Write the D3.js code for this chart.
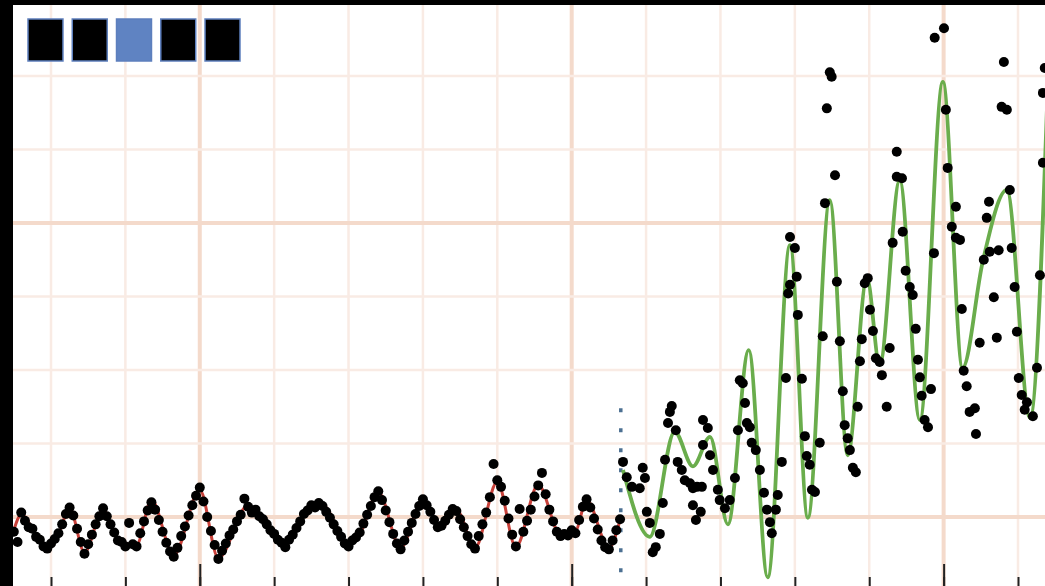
<!DOCTYPE html>
<html>
<head>
<meta charset="utf-8">
<script src="https://cdn.jsdelivr.net/npm/d3@7"></script>
<style>
  html, body { margin: 0; padding: 0; background: #000; }
  svg { display: block; }
</style>
</head>
<body>
<svg id="chart" width="1045" height="586"></svg>
<script>
// observed history, one value per day starting at day 0
const histValues = [
  18.0,16.6,20.6,19.5,18.6,18.4,17.3,16.9,16.0,15.7,
  16.4,17.0,17.8,19.0,20.4,21.3,20.2,18.4,16.6,15.0,
  16.3,17.6,19.0,20.1,21.2,20.1,19.0,17.9,16.8,16.6,
  16.0,19.2,16.3,16.0,17.8,19.4,20.9,22.0,21.0,19.6,
  18.0,16.5,15.3,14.6,15.8,17.4,18.7,20.2,21.6,22.9,
  24.0,22.1,20.0,18.1,16.2,14.3,15.4,16.4,17.5,18.3,
  19.4,20.3,22.5,21.4,20.6,21.0,20.1,19.7,19.0,18.2,
  17.7,16.9,16.5,15.9,16.9,17.6,18.5,19.4,20.4,20.9,
  21.6,21.3,21.9,21.5,20.7,19.9,19.0,18.1,17.3,16.4,
  16.0,16.8,17.2,17.9,19.1,20.3,21.5,22.7,23.5,22.3,
  20.9,19.3,17.7,16.4,15.6,16.8,18.0,19.2,20.4,21.5,
  22.4,21.6,20.7,19.6,18.6,18.8,19.5,20.3,21.1,20.8,
  19.7,18.6,17.4,16.3,15.7,17.4,19.0,20.6,22.7,27.2,
  25.0,24.1,22.2,19.8,17.6,16.0,21.1,18.0,19.5,21.0,
  22.8,24.3,26.0,23.1,21.0,19.4,18.0,17.4,17.7,17.5,
  18.2,17.8,19.6,21.4,22.4,21.3,19.8,18.3,16.8,15.9,
  15.6,16.8,18.2,19.7
];

// fitted curve over the history
const fitDays = [0,2,6,9,12,15,19,24,28,33,37,43,50,55,63,67,73,78,83,90,93,98,104,110,115,119,124,130,135,141,147,151,154,160,163];
const fitValues = [18.2,20.3,17.6,15.9,17.6,21.2,15.2,21.0,16.9,16.2,22.3,14.8,23.7,14.4,21.6,19.6,16.2,20.3,21.6,16.2,17.6,23.4,15.8,22.3,18.5,21.0,15.8,24.8,15.9,24.4,17.6,18.0,22.3,15.8,19.6];

// model curve after the cut
const modelDays = [163.8,171.0,177.7,182.6,187.2,192.0,197.6,202.7,208.7,213.5,219.4,224.2,229.4,232.8,238.2,243.6,249.8,255.1,260.5,267.0,273.2,278.5];
const modelValues = [26.4,17.3,31.6,26.9,30.9,19.0,42.7,11.8,57.0,19.9,63.1,28.4,52.5,40.7,65.8,33.2,79.2,40.3,54.7,64.5,33.5,86.0];

// observations after the cut
const obsDays = [
  163.8,164.8,166.2,168.3,169.1,169.7,170.2,171.0,171.8,172.6,173.7,174.5,175.1,175.9,176.4,176.9,178.0,178.5,179.6,180.4,181.8,182.6,183.7,182.6,183.4,
  185.3,186.6,185.3,185.0,184.7,187.2,188.0,189.3,189.8,191.2,192.5,193.9,194.7,195.2,196.0,196.6,197.1,197.9,198.4,199.5,200.6,201.7,202.5,203.3,203.8,204.9,205.4,206.5,207.6,
  208.7,208.2,208.7,210.0,210.5,210.8,211.9,212.7,213.2,214.0,214.6,215.4,216.7,217.5,218.1,218.6,219.4,219.9,220.8,221.3,
  222.1,222.9,223.4,224.2,224.8,225.6,226.4,226.9,227.5,228.0,228.8,229.6,230.2,231.0,231.8,232.8,233.4,234.7,235.5,236.3,237.4,237.4,238.8,239.0,
  239.8,240.9,241.7,242.5,243.1,243.6,244.1,244.9,245.8,246.6,247.4,247.6,250.1,250.6,251.1,253.3,252.2,253.3,254.4,254.9,
  255.4,256.2,257.0,258.4,258.7,259.7,260.8,261.6,262.4,262.2,263.5,264.3,264.8,265.6,267.0,266.2,267.8,268.3,269.1,269.7,270.2,271.0,272.4,271.8,274.0,275.1,275.9,276.7,276.7,277.2
];
const obsValues = [
  27.5,25.4,24.1,23.9,26.7,25.3,20.7,19.2,15.2,15.9,17.7,21.9,27.8,32.8,34.3,35.1,31.8,27.5,26.4,25.0,24.6,23.9,24.1,21.6,19.6,
  33.2,32.1,29.8,24.1,20.7,28.4,26.4,23.7,22.3,21.2,22.3,25.3,31.8,38.6,38.2,35.5,32.8,32.2,30.1,29.1,26.4,23.3,21.0,19.3,17.8,21.0,23.0,27.5,38.9,
  51.6,50.4,58.1,56.6,52.7,47.5,38.8,31.0,28.3,27.1,23.7,23.4,30.1,44.6,62.7,75.6,80.5,79.9,66.5,52.0,
  43.9,37.1,32.5,30.7,29.1,26.7,26.1,35.0,41.2,44.2,51.8,52.5,48.2,45.3,41.6,41.1,39.3,35.0,43.0,57.3,69.7,66.3,66.1,58.8,
  53.5,51.3,50.2,45.6,41.4,39.0,36.5,33.2,32.2,37.4,55.9,85.2,86.5,75.4,67.5,62.2,59.5,58.0,57.7,48.3,
  39.9,37.8,34.3,34.8,31.3,43.7,55.0,60.7,56.1,62.9,49.9,44.4,56.3,75.8,75.4,81.9,64.5,56.6,51.3,45.2,38.9,36.6,35.6,34.6,33.7,40.3,52.9,68.2,77.7,81.1
];

const tickDays = [10,30,50,70,90,110,130,150,170,190,210,230,250,270];
const majorDays = [50,150,250];
const gridValues = [20,30,40,50,60,70,80];
const majorValues = [20,60];
const cutDay = 163.2;
const cutRange = [11.7, 34.8];
const legendKeys = ['s1','s2','s3','s4','s5'];
const activeKey = 's3';

const W = 1045, H = 586;
const plotLeft = 13, plotTop = 5;

const x = d3.scaleLinear().domain([10, 270]).range([51, 1018]);
const y = d3.scaleLinear().domain([20, 80]).range([517, 76]);

const svg = d3.select('#chart');

svg.append('rect').attr('width', W).attr('height', H).attr('fill', '#000');
svg.append('rect')
   .attr('x', plotLeft).attr('y', plotTop)
   .attr('width', W - plotLeft).attr('height', H - plotTop)
   .attr('fill', '#fff');

svg.append('clipPath').attr('id', 'plot')
   .append('rect')
   .attr('x', plotLeft).attr('y', plotTop)
   .attr('width', W - plotLeft).attr('height', H - plotTop);

const g = svg.append('g').attr('clip-path', 'url(#plot)');

//grid
g.selectAll('.vgrid')
 .data(tickDays)
 .join('line')
 .attr('x1', d => x(d)).attr('x2', d => x(d))
 .attr('y1', plotTop).attr('y2', H)
 .attr('stroke', d => majorDays.includes(d) ? '#f4dacb' : '#f9ebe4')
 .attr('stroke-width', d => majorDays.includes(d) ? 4 : 2.5);

g.selectAll('.hgrid')
 .data(gridValues)
 .join('line')
 .attr('x1', plotLeft).attr('x2', W)
 .attr('y1', d => y(d)).attr('y2', d => y(d))
 .attr('stroke', d => majorValues.includes(d) ? '#f4dacb' : '#f9ebe4')
 .attr('stroke-width', d => majorValues.includes(d) ? 4 : 2.5);

//bottom ticks
const minorAxis = d3.axisBottom(x).tickValues(tickDays).tickSize(9).tickFormat('');
const majorAxis = d3.axisBottom(x).tickValues(majorDays).tickSize(22).tickFormat('');
svg.append('g').attr('transform', 'translate(0,577)').call(minorAxis);
svg.append('g').attr('transform', 'translate(0,564)').call(majorAxis);
svg.selectAll('.domain').remove();
svg.selectAll('.tick line').attr('stroke', '#222').attr('stroke-width', 2);

//cut marker
g.append('line')
 .attr('x1', x(cutDay)).attr('x2', x(cutDay))
 .attr('y1', y(cutRange[1])).attr('y2', y(cutRange[0]))
 .attr('stroke', '#4c7092')
 .attr('stroke-width', 3.5)
 .attr('stroke-dasharray', '4,16');

const line = d3.line()
               .x(d => x(d[0]))
               .y(d => y(d[1]))
               .curve(d3.curveMonotoneX);

g.append('path')
 .datum(fitDays.map((d, i) => [d, fitValues[i]]))
 .attr('d', line)
 .attr('fill', 'none')
 .attr('stroke', '#c8413a')
 .attr('stroke-width', 3);

g.append('path')
 .datum(modelDays.map((d, i) => [d, modelValues[i]]))
 .attr('d', line)
 .attr('fill', 'none')
 .attr('stroke', '#6aad4c')
 .attr('stroke-width', 3.8);

const points = histValues.map((v, i) => [i, v])
  .concat(obsDays.map((d, i) => [d, obsValues[i]]));

g.selectAll('.pt')
 .data(points)
 .join('circle')
 .attr('cx', d => x(d[0]))
 .attr('cy', d => y(d[1]))
 .attr('r', 5)
 .attr('fill', '#000');

//legend buttons
const lx = d3.scaleBand().domain(legendKeys).range([28, 240]).paddingInner(0.21);
svg.selectAll('.key')
   .data(legendKeys)
   .join('rect')
   .attr('x', d => lx(d))
   .attr('y', 19)
   .attr('width', lx.bandwidth())
   .attr('height', 42)
   .attr('fill', d => d === activeKey ? '#5f83c2' : '#000')
   .attr('stroke', '#5d7fbd')
   .attr('stroke-width', 1.5);
</script>
</body>
</html>
